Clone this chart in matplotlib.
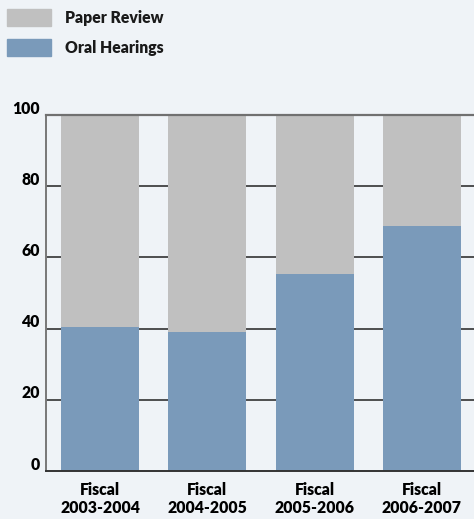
import matplotlib.pyplot as plt
import matplotlib.transforms as mtransforms
from matplotlib.patches import Rectangle
import numpy as np

plt.rcParams['font.family'] = ['Lato', 'DejaVu Sans']
plt.rcParams['font.weight'] = 'bold'

years = ["Fiscal\n2003-2004", "Fiscal\n2004-2005", "Fiscal\n2005-2006", "Fiscal\n2006-2007"]
oral = [40.4, 39.0, 55.3, 68.9]
paper = [59.6, 61.0, 44.7, 31.1]
yticks = [0, 20, 40, 60, 80, 100]

bg = "#eff3f7"
c_paper = "#c0c0c0"
c_oral = "#7a9aba"
fs = 11.3

W, H = 474, 519
fig = plt.figure(figsize=(W / 100, H / 100), dpi=100, facecolor=bg)
ax = fig.add_axes([46 / W, 48 / H, 1 - 46 / W, (471 - 115) / H])
ax.set_facecolor(bg)

x = np.arange(len(years))
ax.bar(x, oral, width=0.727, color=c_oral, zorder=2)
ax.bar(x, paper, width=0.727, bottom=oral, color=c_paper, zorder=2)

ax.set_xlim(-0.503, 3.485)
ax.set_ylim(0, 100)

# grid lines behind the bars, top line over them
for v in yticks[1:-1]:
    ax.axhline(v, color="#222222", lw=1.1, zorder=1)
ax.axhline(100, color="#707070", lw=1.6, zorder=3, clip_on=False)

for s in ["top", "right"]:
    ax.spines[s].set_visible(False)
ax.spines["left"].set_color("#777777")
ax.spines["left"].set_linewidth(1.4)
ax.spines["bottom"].set_color("#333333")
ax.spines["bottom"].set_linewidth(1.4)

ax.set_yticks(yticks)
ax.set_yticklabels([str(v) for v in yticks], fontsize=fs, fontweight="heavy")
ax.tick_params(axis="y", length=0, pad=4.5)
shift = mtransforms.ScaledTranslation(0, 8 / 100, fig.dpi_scale_trans)
for lab in ax.get_yticklabels():
    lab.set_transform(lab.get_transform() + shift)

ax.set_xticks(x)
ax.set_xticklabels(years, fontsize=fs, fontweight="heavy", linespacing=1.15)
ax.tick_params(axis="x", length=0, pad=8)

# legend
for i, (lab, col) in enumerate([("Paper Review", c_paper), ("Oral Hearings", c_oral)]):
    y0 = 9 + i * 30
    fig.add_artist(Rectangle((7 / W, 1 - (y0 + 17) / H), 44 / W, 17 / H,
                             transform=fig.transFigure, color=col))
    fig.text(65 / W, 1 - (y0 + 9) / H, lab, fontsize=fs, fontweight="heavy",
             va="center", ha="left", color="#1a1a1a")

fig.savefig("out.png", dpi=100, facecolor=bg)
